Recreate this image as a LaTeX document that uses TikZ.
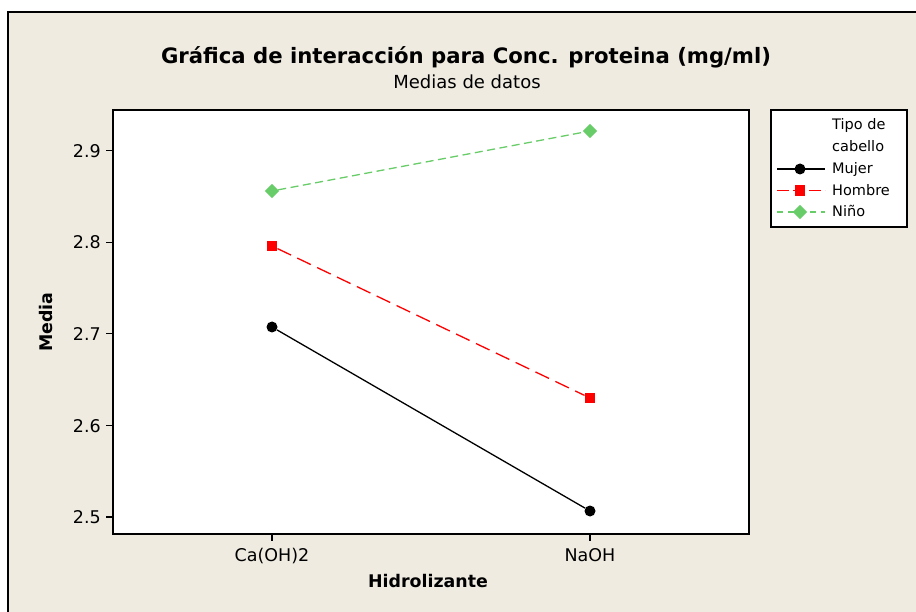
\documentclass[tikz,border=0pt]{standalone}
\usepackage{fontspec}
\setmainfont{DejaVu Sans}
\usetikzlibrary{shapes.geometric}
\definecolor{bgbeige}{RGB}{239,235,225}
\definecolor{ninogreen}{RGB}{104,204,104}
\definecolor{hombrered}{RGB}{255,0,0}
\tikzset{
  frameline/.style={draw=black,line width=1.4pt},
  tickline/.style={draw=black,line width=1.2pt},
  ticklabel/.style={font=\fontsize{17.5}{20}\selectfont,inner sep=0pt},
  axtitle/.style={font=\fontsize{17.4}{20}\selectfont\bfseries,inner sep=0pt},
  legtext/.style={font=\fontsize{14.5}{17}\selectfont,inner sep=0pt,anchor=base west},
  mujerline/.style={draw=black,line width=1.3pt},
  hombreline/.style={draw=hombrered,line width=1.3pt,dash pattern=on 15pt off 7pt},
  ninoline/.style={draw=ninogreen,line width=1.3pt,dash pattern=on 8pt off 4.5pt},
  mujermark/.style={circle,fill=black,minimum size=11pt,inner sep=0pt},
  hombremark/.style={rectangle,fill=hombrered,minimum size=10.5pt,inner sep=0pt},
  ninomark/.style={diamond,fill=ninogreen,minimum size=14.5pt,inner sep=0pt},
}
\begin{document}
\begin{tikzpicture}[x=1pt,y=-1pt]
\useasboundingbox (0,0) rectangle (916,612);
\fill[white] (0,0) rectangle (916,612);
% outer panel
\fill[bgbeige] (8,12) rectangle (916,612);
\draw[frameline] (8,612) -- (8,12) -- (916,12);
% plot area
\fill[white] (113,110) rectangle (749,534);
\draw[frameline] (113,110) rectangle (749,534);
% titles
\node[font=\fontsize{21.2}{24}\selectfont\bfseries,inner sep=0pt,anchor=base] (title) at (466,63.3) {Gráfica de interacción para Conc. proteina (mg/ml)};
\node[font=\fontsize{18}{21}\selectfont,inner sep=0pt,anchor=base] (subtitle) at (467,88.3) {Medias de datos};
% y ticks
\foreach \v/\y in {2.9/150.7,2.8/242.3,2.7/333.9,2.6/425.5,2.5/517} {
  \draw[tickline] (106,\y) -- (113,\y);
  \node[ticklabel,anchor=base east] at (101,\y+6.5) {\v};
}
% x ticks
\draw[tickline] (272,534) -- (272,541);
\draw[tickline] (590,534) -- (590,541);
\node[ticklabel,anchor=base] (xa) at (272,561.7) {Ca(OH)2};
\node[ticklabel,anchor=base] (xb) at (590,561.7) {NaOH};
% axis titles
\node[axtitle,anchor=base] (xtitle) at (428,587) {Hidrolizante};
\node[axtitle,rotate=90] (ytitle) at (46,322) {Media};
% data markers
\node[ninomark] (n1) at (272,191) {};
\node[ninomark] (n2) at (590,131) {};
\node[hombremark] (h1) at (272,246) {};
\node[hombremark] (h2) at (590,398) {};
\node[mujermark] (m1) at (272,327) {};
\node[mujermark] (m2) at (590,511) {};
% connectors
\draw[ninoline] (n1) -- (n2);
\draw[hombreline] (h1) -- (h2);
\draw[mujerline] (m1) -- (m2);
% legend
\fill[white] (771,110) rectangle (907,227);
\draw[frameline] (771,110) rectangle (907,227);
\node[legtext] (lt1) at (832,130) {Tipo de};
\node[legtext] (lt2) at (832,151.7) {cabello};
\coordinate (la1) at (777,169);
\coordinate (lb1) at (825,169);
\coordinate (la2) at (777,190.5);
\coordinate (lb2) at (825,190.5);
\coordinate (la3) at (777,212);
\coordinate (lb3) at (825,212);
\draw[mujerline] (la1) -- (lb1);
\draw[hombreline,dash pattern=on 12pt off 4pt] (la2) -- (lb2);
\draw[ninoline,dash pattern=on 6pt off 5pt] (la3) -- (lb3);
\node[mujermark] (lm1) at (800,169) {};
\node[hombremark] (lm2) at (800,190.5) {};
\node[ninomark] (lm3) at (800,212) {};
\node[legtext] (lx1) at (832,174) {Mujer};
\node[legtext] (lx2) at (832,195.5) {Hombre};
\node[legtext] (lx3) at (832,217) {Niño};
\end{tikzpicture}
\end{document}
